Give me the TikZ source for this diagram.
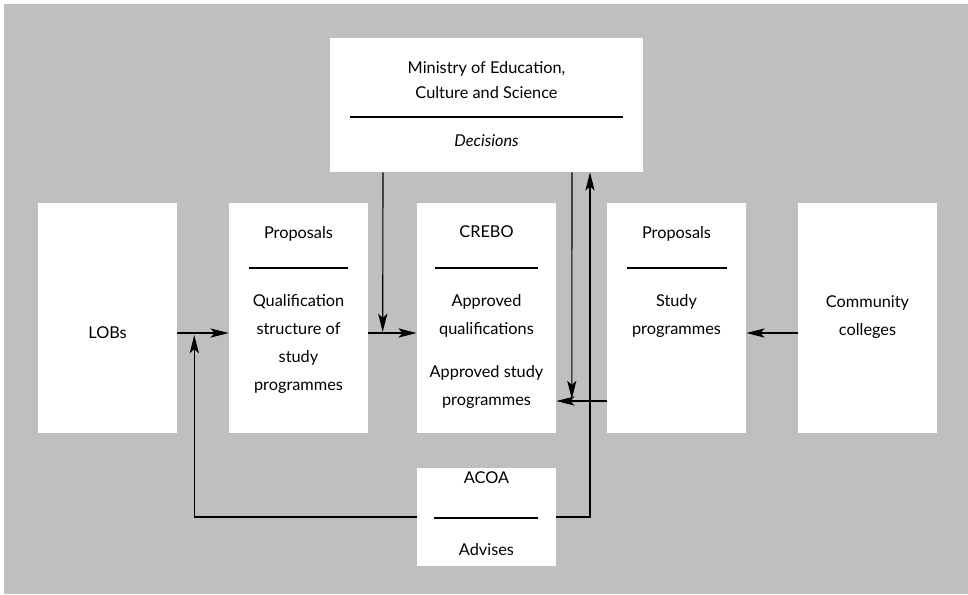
\documentclass[tikz,border=0pt]{standalone}
\usepackage{fontspec}
\setmainfont{Lato}
\usetikzlibrary{arrows.meta,calc}

\begin{document}
\begin{tikzpicture}[x=0.025cm, y=-0.025cm,
	every node/.style={font=\fontsize{11.6}{19.9}\selectfont, align=center, inner sep=0pt},
	box/.style={fill=white, minimum width=3.475cm, minimum height=5.75cm},
	sepline/.style={line width=0.9pt},
	flow/.style={line width=0.8pt, -{Stealth[length=13pt, width=6.5pt, inset=3pt]}}]
	\useasboundingbox (0,0) rectangle (968,594);
	\fill[white] (0,0) rectangle (968,594);
	\fill[black!25] (4,4) rectangle (968,594);

	% ministry on top, ACOA below
	\node[box, minimum width=7.825cm, minimum height=3.35cm] (ministry) at (486.5,105) {};
	\node[box, minimum height=2.45cm] (acoa) at (486.5,517) {};
	% the five columns
	\node[box] (lobs) at (107.5,318) {};
	\node[box] (prop1) at (298.5,318) {};
	\node[box] (crebo) at (486.5,318) {};
	\node[box] (prop2) at (676.5,318) {};
	\node[box] (cc) at (867.5,318) {};

	% texts
	\node (mintxt) at (486.5,80) {Ministry of Education,\\[-2.4pt]Culture and Science};
	\node (dectxt) at (486.5,141) {\textit{Decisions}};
	\draw[sepline] (350,117) -- (623,117);

	\node (lobstxt) at (107.5,333) {LOBs};

	\node (prop1top) at (298.5,234) {Proposals};
	\draw[sepline] (249,268) -- (348,268);
	\node (prop1txt) at (298.5,344) {Qualification\\structure of\\study\\programmes};

	\node (crebotop) at (486.5,232) {CREBO};
	\draw[sepline] (435,268) -- (538,268);
	\node (crebotxt) at (486.5,316) {Approved\\qualifications};
	\node (crebotxt2) at (486.5,387) {Approved study\\programmes};

	\node (prop2top) at (676.5,234) {Proposals};
	\draw[sepline] (627,268) -- (727,268);
	\node (prop2txt) at (676.5,316) {Study\\programmes};

	\node (cctxt) at (867.5,317) {Community\\colleges};

	\node (acoatxt) at (486.5,478) {ACOA};
	\draw[sepline] (434,518) -- (538,518);
	\node (advtxt) at (486.5,550) {Advises};

	% connectors
	\coordinate (fb) at ($(lobs.east)+(17,17)$);
	\draw[flow] ($(lobs.east)+(0,15)$) -- ($(prop1.west)+(0,15)$);
	\draw[flow] ($(prop1.east)+(0,15)$) -- ($(crebo.west)+(0,15)$);
	\draw[flow] ($(cc.west)+(0,15)$) -- ($(prop2.east)+(0,15)$);
	\draw[flow] ($(prop2.west)+(0,83)$) -- ($(crebo.east)+(0,83)$);
	\draw[flow] ($(ministry.south)+(-103.5,0)$) -- ($(crebo.west)+(-34,14)$);
	\draw[flow] ($(ministry.south)+(85.5,0)$) -- ($(crebo.east)+(15.5,81)$);
	\draw[flow] (acoa.east) -| ($(ministry.south)+(103.5,0)$);
	\draw[flow] (acoa.west) -| (fb);
\end{tikzpicture}
\end{document}
